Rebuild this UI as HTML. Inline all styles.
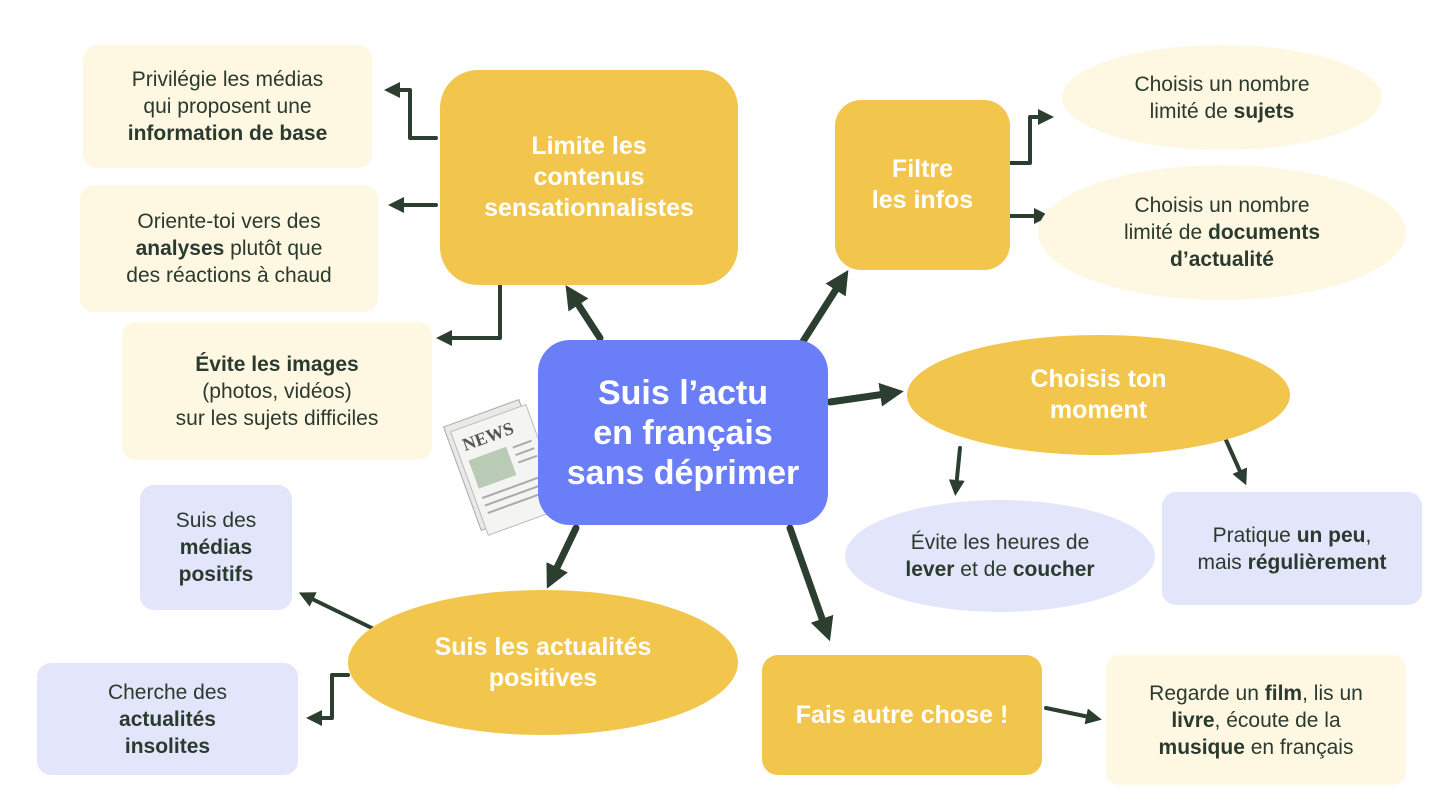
<!DOCTYPE html>
<html><head><meta charset="utf-8"><style>
body{margin:0;width:1440px;height:810px;background:#fff;position:relative;overflow:hidden;font-family:"Liberation Sans",sans-serif;color:#2b3a2e}
.n{position:absolute;display:flex;align-items:center;justify-content:center;text-align:center;box-sizing:border-box}
.n>span{display:block;white-space:nowrap}
.y{background:#f2c64c;color:#fff;font-weight:bold;font-size:25px;line-height:31px}
.c{background:#fef7e2;font-size:21px;line-height:27px}
.l{background:#e3e6fb;font-size:21px;line-height:27px}
b{color:#2b3a2e}
</style></head><body>
<svg width="1440" height="810" style="position:absolute;left:0;top:0">
<defs><marker id="a" markerWidth="3.4" markerHeight="3.4" refX="1.7" refY="1.7" orient="auto" markerUnits="strokeWidth"><path d="M0,0 L3.4,1.7 L0,3.4 z" fill="#2c3e30"/></marker>
<marker id="s" markerWidth="4" markerHeight="4" refX="2" refY="2" orient="auto" markerUnits="strokeWidth"><path d="M0,0 L4,2 L0,4 z" fill="#2c3e30"/></marker></defs>
<g stroke="#2c3e30" fill="none" stroke-linecap="round" stroke-linejoin="round">
<g stroke-width="7" marker-end="url(#a)">
<line x1="600" y1="338" x2="572" y2="295"/>
<line x1="802" y1="343" x2="842" y2="280"/>
<line x1="830" y1="402" x2="892" y2="393"/>
<line x1="790" y1="528" x2="826" y2="630"/>
<line x1="576" y1="528" x2="552" y2="578"/>
</g>
<g stroke-width="4" marker-end="url(#s)">
<path d="M436,138 L410,138 L410,90 L392,90"/>
<path d="M436,205 L396,205"/>
<path d="M500,286 L500,338 L444,338"/>
<path d="M1006,163 L1030,163 L1030,117 L1046,117"/>
<path d="M1006,216 L1042,216"/>
<path d="M960,448 L956,488"/>
<path d="M1226,440 L1243,478"/>
<path d="M1046,708 L1094,718"/>
<path d="M380,632 L306,596"/>
<path d="M348,675 L332,675 L332,718 L314,718"/>
</g></g>
<g transform="translate(500,465) rotate(-20)">
<rect x="-40" y="-55" width="80" height="110" fill="#e9e9e6" stroke="#aaa"/>
<rect x="-35" y="-48" width="80" height="110" fill="#f4f4f2" stroke="#bbb"/>
<text x="-28" y="-25" font-family="Liberation Serif" font-weight="bold" font-size="18" fill="#555">NEWS</text>
<rect x="-28" y="-15" width="40" height="30" fill="#b9cbb4"/>
<g stroke="#aaa" stroke-width="2"><line x1="18" y1="-12" x2="38" y2="-12"/><line x1="18" y1="-4" x2="38" y2="-4"/><line x1="18" y1="4" x2="38" y2="4"/><line x1="-28" y1="25" x2="38" y2="25"/><line x1="-28" y1="33" x2="38" y2="33"/><line x1="-28" y1="41" x2="38" y2="41"/></g>
</g>
</svg>
<div class="n" style="left:538px;top:340px;width:290px;height:185px;background:#6a7ff7;border-radius:32px;color:#fff;font-weight:bold;font-size:34px;line-height:40px"><span>Suis l’actu<br>en français<br>sans déprimer</span></div>
<div class="n y" style="left:440px;top:70px;width:298px;height:215px;border-radius:38px"><span>Limite les<br>contenus<br>sensationnalistes</span></div>
<div class="n c" style="left:83px;top:45px;width:289px;height:123px;border-radius:14px"><span>Privilégie les médias<br>qui proposent une<br><b>information de base</b></span></div>
<div class="n c" style="left:80px;top:185px;width:298px;height:127px;border-radius:14px"><span>Oriente-toi vers des<br><b>analyses</b> plutôt que<br>des réactions à chaud</span></div>
<div class="n c" style="left:122px;top:322px;width:310px;height:138px;border-radius:14px"><span><b>Évite les images</b><br>(photos, vidéos)<br>sur les sujets difficiles</span></div>
<div class="n y" style="left:835px;top:100px;width:175px;height:170px;border-radius:26px"><span>Filtre<br>les infos</span></div>
<div class="n c" style="left:1062px;top:45px;width:320px;height:105px;border-radius:50%"><span>Choisis un nombre<br>limité de <b>sujets</b></span></div>
<div class="n c" style="left:1038px;top:165px;width:368px;height:135px;border-radius:50%"><span>Choisis un nombre<br>limité de <b>documents<br>d’actualité</b></span></div>
<div class="n y" style="left:907px;top:335px;width:383px;height:120px;border-radius:50%"><span>Choisis ton<br>moment</span></div>
<div class="n l" style="left:845px;top:500px;width:310px;height:112px;border-radius:50%"><span>Évite les heures de<br><b>lever</b> et de <b>coucher</b></span></div>
<div class="n l" style="left:1162px;top:492px;width:260px;height:113px;border-radius:14px"><span>Pratique <b>un peu</b>,<br>mais <b>régulièrement</b></span></div>
<div class="n y" style="left:762px;top:655px;width:280px;height:120px;border-radius:16px"><span>Fais autre chose !</span></div>
<div class="n c" style="left:1106px;top:655px;width:300px;height:130px;border-radius:14px"><span>Regarde un <b>film</b>, lis un<br><b>livre</b>, écoute de la<br><b>musique</b> en français</span></div>
<div class="n y" style="left:348px;top:590px;width:390px;height:145px;border-radius:50%"><span>Suis les actualités<br>positives</span></div>
<div class="n l" style="left:140px;top:485px;width:152px;height:125px;border-radius:14px"><span>Suis des<br><b>médias<br>positifs</b></span></div>
<div class="n l" style="left:37px;top:663px;width:261px;height:112px;border-radius:14px"><span>Cherche des<br><b>actualités<br>insolites</b></span></div>
</body></html>
